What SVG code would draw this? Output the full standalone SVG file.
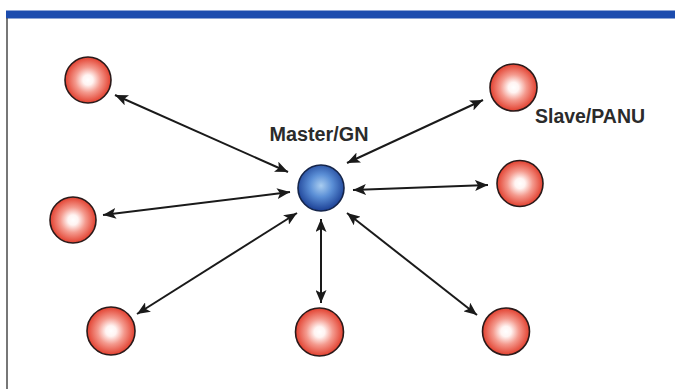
<svg xmlns="http://www.w3.org/2000/svg" width="675" height="389" viewBox="0 0 675 389">
<defs>
<radialGradient id="red" cx="0.5" cy="0.5" r="0.5">
<stop offset="0" stop-color="#ffffff"/>
<stop offset="0.22" stop-color="#fff4f2"/>
<stop offset="0.55" stop-color="#f49a8e"/>
<stop offset="1" stop-color="#e2402f"/>
</radialGradient>
<radialGradient id="blue" cx="0.5" cy="0.45" r="0.55">
<stop offset="0" stop-color="#a9cdf0"/>
<stop offset="0.45" stop-color="#5b8fd6"/>
<stop offset="1" stop-color="#1b3f94"/>
</radialGradient>
<marker id="ah" viewBox="0 0 13 11" refX="13" refY="5.5" markerWidth="13" markerHeight="11" markerUnits="userSpaceOnUse" orient="auto-start-reverse">
<path d="M0,0 L13,5.5 L0,11 L3,5.5 Z" fill="#1a1a1a"/>
</marker>
</defs>
<style>
.slave{fill:url(#red);stroke:#2a1a1a;stroke-width:1.6}
.master{fill:url(#blue);stroke:#15254a;stroke-width:1.6}
.conn line{stroke:#1a1a1a;stroke-width:2;marker-start:url(#ah);marker-end:url(#ah)}
.lbl{font-family:"Liberation Sans",Arial,sans-serif;font-weight:bold;font-size:20px;fill:#2b2b2b}
</style>
<rect x="0" y="0" width="675" height="389" fill="#ffffff"/>
<rect x="6" y="10.5" width="669" height="8" fill="#1c4cae"/>
<line x1="7" y1="18" x2="7" y2="389" stroke="#4a4a4a" stroke-width="1.5"/>
<g id="connectors" class="conn">
<line x1="288" y1="172" x2="115" y2="95"/>
<line x1="347" y1="163" x2="483" y2="100"/>
<line x1="290" y1="192" x2="103" y2="215"/>
<line x1="353" y1="190" x2="488" y2="185"/>
<line x1="297" y1="213" x2="137" y2="314"/>
<line x1="321" y1="219" x2="321" y2="303"/>
<line x1="347" y1="213" x2="477" y2="315"/>
</g>
<g id="master">
<circle class="master" cx="321" cy="188" r="23"/>
<text class="lbl" x="319" y="141" text-anchor="middle" textLength="99" lengthAdjust="spacingAndGlyphs">Master/GN</text>
</g>
<g id="slave-top-left"><circle class="slave" cx="88" cy="80" r="23"/></g>
<g id="slave-top-right">
<circle class="slave" cx="513.5" cy="87.5" r="23.5"/>
<text class="lbl" x="535" y="123" textLength="110" lengthAdjust="spacingAndGlyphs">Slave/PANU</text>
</g>
<g id="slave-left"><circle class="slave" cx="73" cy="220" r="23"/></g>
<g id="slave-right"><circle class="slave" cx="520" cy="183.5" r="23"/></g>
<g id="slave-bottom-left"><circle class="slave" cx="111" cy="331" r="24"/></g>
<g id="slave-bottom-mid"><circle class="slave" cx="319.5" cy="332" r="24"/></g>
<g id="slave-bottom-right"><circle class="slave" cx="506" cy="331.5" r="23.5"/></g>
</svg>
